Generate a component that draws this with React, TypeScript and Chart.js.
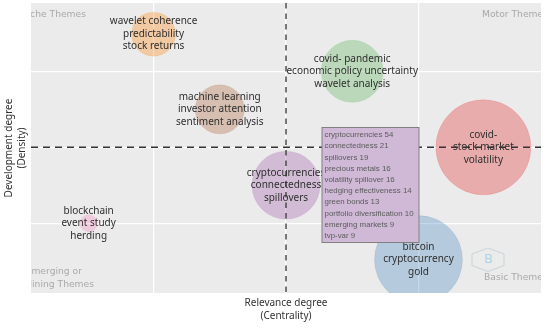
import React, { useEffect, useRef } from "react";
import { Chart, registerables } from "chart.js";

Chart.register(...registerables);

const themeLabels = [
  ["wavelet coherence", "predictability", "stock returns"],
  ["machine learning", "investor attention", "sentiment analysis"],
  ["covid- pandemic", "economic policy uncertainty", "wavelet analysis"],
  ["covid-", "stock market", "volatility"],
  ["cryptocurrencies", "connectedness", "spillovers"],
  ["bitcoin", "cryptocurrency", "gold"],
  ["blockchain", "event study", "herding"],
];
const centrality = [-1.0, -0.5, 0.5, 1.49, 0, 1.0, -1.49];
const density = [1.49, 0.5, 1.0, 0.0, -0.5, -1.48, -1.0];
const bubbleSizes = [22, 24.5, 31, 47.5, 34, 44, 8.5];
const bubbleColors = ["#FF7F00", "#A65628", "#4DAF4A", "#E41A1C", "#984EA3", "#377EB8", "#F781BF"];

const topicNames = [
  "cryptocurrencies", "connectedness", "spillovers", "precious metals", "volatility spillover",
  "hedging effectiveness", "green bonds", "portfolio diversification", "emerging markets", "tvp-var",
];
const topicCounts = [54, 21, 19, 16, 16, 14, 13, 10, 9, 9];
const gridTicks = [-1, 0, 1];

const FONT = '"Noto Sans"';

function alpha(hex: string, a: number) {
  const n = parseInt(hex.slice(1), 16);
  return `rgba(${n >> 16},${(n >> 8) & 255},${n & 255},${a})`;
}

const plotBackground = {
  id: "plotBackground",
  beforeDraw(chart: any) {
    const { ctx, chartArea: a } = chart;
    ctx.save();
    ctx.fillStyle = "#EBEBEB";
    ctx.fillRect(a.left, a.top, a.width, a.height);
    ctx.restore();
  },
};

const themeText = {
  id: "themeText",
  afterDatasetDraw(chart: any, args: any) {
    if (args.index !== 2) return;
    const { ctx, chartArea: a, scales } = chart;
    ctx.save();
    ctx.textAlign = "center";
    ctx.textBaseline = "middle";
    ctx.font = `10px ${FONT}`;
    ctx.fillStyle = "#2E2E2E";
    themeLabels.forEach((lines, i) => {
      const x = scales.x.getPixelForValue(centrality[i]);
      const y = scales.y.getPixelForValue(density[i]);
      lines.forEach((t, j) => ctx.fillText(t, x, y + (j - 1) * 12.5));
    });
    // quadrant captions, cut off by the plot edge as in the source
    ctx.beginPath();
    ctx.rect(a.left, a.top, a.width, a.height);
    ctx.clip();
    ctx.fillStyle = "#A9A9A9";
    ctx.font = '9.2px "DejaVu Sans"';
    ctx.textAlign = "right";
    ctx.fillText("Niche Themes", 86, 15);
    ctx.fillText("Emerging or", 82, 271.5);
    ctx.fillText("Declining Themes", 94, 284.5);
    ctx.textAlign = "left";
    ctx.fillText("Motor Themes", 482, 15);
    ctx.fillText("Basic Themes", 484, 278);
    // logo
    ctx.strokeStyle = "#C9D3D9";
    ctx.lineWidth = 1;
    ctx.beginPath();
    const pts = [[488, 248], [504, 254], [504, 265.5], [488, 271.5], [472, 265.5], [472, 254]];
    pts.forEach((p, i) => (i ? ctx.lineTo(p[0], p[1]) : ctx.moveTo(p[0], p[1])));
    ctx.closePath();
    ctx.stroke();
    ctx.fillStyle = "#A9D3E6";
    ctx.font = `13px ${FONT}`;
    ctx.textAlign = "center";
    ctx.fillText("B", 488.5, 259);
    ctx.restore();
  },
};

const topicBox = {
  id: "topicBox",
  afterDraw(chart: any) {
    const { ctx } = chart;
    const left = 322, top = 127.5, w = 97, h = 115;
    ctx.save();
    ctx.fillStyle = "#CFB9D6";
    ctx.fillRect(left, top, w, h);
    ctx.strokeStyle = "#808080";
    ctx.lineWidth = 1;
    ctx.strokeRect(left, top, w, h);
    ctx.fillStyle = "#5C5C5C";
    ctx.font = '7.9px "Liberation Sans"';
    ctx.textAlign = "left";
    ctx.textBaseline = "middle";
    topicNames.forEach((t, i) => ctx.fillText(`${t} ${topicCounts[i]}`, left + 2.5, top + 7.5 + i * 11.2));
    ctx.restore();
  },
};

export default function App() {
  const ref = useRef<HTMLCanvasElement>(null);
  useEffect(() => {
    const chart = new Chart(ref.current as HTMLCanvasElement, {
      type: "bubble",
      data: {
        datasets: [
          {
            type: "line",
            data: [{ x: -1.925, y: 0 }, { x: 1.925, y: 0 }],
            borderColor: "#333333",
            borderWidth: 1.3,
            borderDash: [7, 5],
            pointRadius: 0,
          },
          {
            type: "line",
            data: [{ x: 0, y: 1.9 }, { x: 0, y: -1.92 }],
            borderColor: "#333333",
            borderWidth: 1.3,
            borderDash: [5.5, 5],
            pointRadius: 0,
          },
          {
            type: "bubble",
            clip: 0,
            data: centrality.map((x, i) => ({ x, y: density[i], r: bubbleSizes[i] })),
            backgroundColor: bubbleColors.map((c) => alpha(c, 0.3)),
            borderColor: bubbleColors.map((c) => alpha(c, 0.12)),
            borderWidth: 1,
          },
        ] as any,
      },
      plugins: [plotBackground, themeText, topicBox],
      options: {
        responsive: false,
        animation: false,
        plugins: { legend: { display: false }, tooltip: { enabled: false } },
        layout: { autoPadding: false, padding: { left: 0, right: 9, top: 3, bottom: 0 } },
        scales: {
          x: {
            type: "linear",
            min: -1.925,
            max: 1.925,
            afterBuildTicks: (s: any) => { s.ticks = gridTicks.map((value) => ({ value })); },
            afterFit: (s: any) => { s.height = 35; },
            ticks: { display: false },
            border: { display: false },
            grid: { color: "#FFFFFF", lineWidth: 1.2, drawTicks: false },
            title: {
              display: true,
              text: ["Relevance degree", "(Centrality)"],
              color: "#333333",
              font: { family: FONT, size: 10, lineHeight: 1.3 },
              padding: { top: 0, bottom: 5 },
            },
          },
          y: {
            type: "linear",
            min: -1.92,
            max: 1.9,
            afterBuildTicks: (s: any) => { s.ticks = gridTicks.map((value) => ({ value })); },
            afterFit: (s: any) => { s.width = 31; },
            ticks: { display: false },
            border: { display: false },
            grid: { color: "#FFFFFF", lineWidth: 1.2, drawTicks: false },
            title: {
              display: true,
              text: ["Development degree", "(Density)"],
              color: "#333333",
              font: { family: FONT, size: 10, lineHeight: 1.3 },
              padding: { top: 3, bottom: 0 },
            },
          },
        },
      },
    } as any);
    return () => chart.destroy();
  }, []);
  return (
    <div style={{ position: "fixed", left: 0, top: 0, width: 550, height: 328, background: "#FFFFFF" }}>
      <canvas ref={ref} width={550} height={328} style={{ display: "block" }} />
    </div>
  );
}
